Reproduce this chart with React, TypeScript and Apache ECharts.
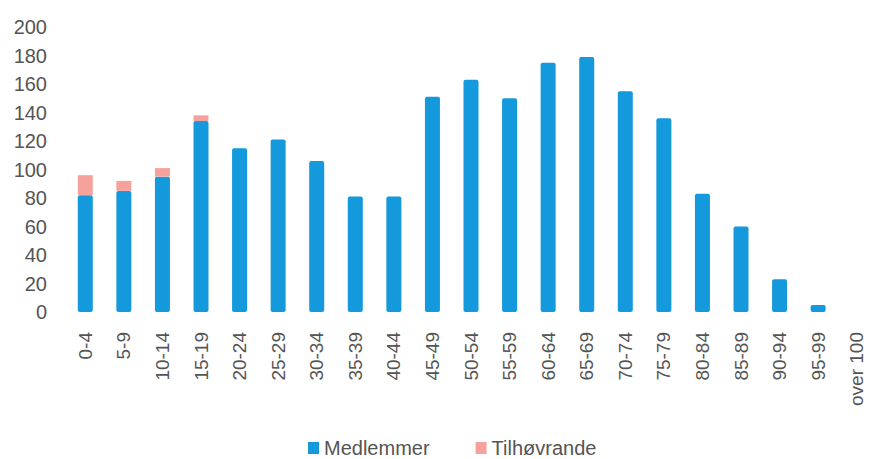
import React, { useEffect, useRef } from "react";
import * as echarts from "echarts";

const categories = [
  "0-4", "5-9", "10-14", "15-19", "20-24", "25-29", "30-34", "35-39", "40-44",
  "45-49", "50-54", "55-59", "60-64", "65-69", "70-74", "75-79", "80-84",
  "85-89", "90-94", "95-99", "over 100",
];
const medlemmer = [82, 85, 95, 134, 115, 121, 106, 81, 81, 151, 163, 150, 175, 179, 155, 136, 83, 60, 23, 5, 0];
const tilhovrande = [14, 7, 6, 4, 0, 0, 0, 0, 0, 0, 0, 0, 0, 0, 0, 0, 0, 0, 0, 0, 0];
const seriesNames = ["Medlemmer", "Tilhøvrande"];
const yTicks = { min: 0, max: 200, interval: 20 };

const FONT = "'Liberation Sans', Arial, sans-serif";
const TEXT = "#555555";

export default function App() {
  const ref = useRef<HTMLDivElement>(null);
  useEffect(() => {
    if (!ref.current) return;
    const chart = echarts.init(ref.current, null, { renderer: "svg" });
    chart.setOption({
      animation: false,
      textStyle: { fontFamily: FONT },
      grid: { left: 66, top: 27, width: 820, height: 285, containLabel: false },
      legend: {
        data: seriesNames,
        left: 308,
        top: 438,
        padding: 0,
        itemWidth: 11,
        itemHeight: 12,
        itemGap: 46,
        icon: "rect",
        textStyle: { fontSize: 20, lineHeight: 18, color: TEXT, fontFamily: FONT },
      },
      xAxis: {
        type: "category",
        data: categories,
        axisLine: { show: false },
        axisTick: { show: false },
        axisLabel: {
          rotate: 90,
          interval: 0,
          margin: 20,
          fontSize: 19,
          color: TEXT,
          fontFamily: FONT,
        },
      },
      yAxis: {
        type: "value",
        min: yTicks.min,
        max: yTicks.max,
        interval: yTicks.interval,
        splitLine: { show: false },
        axisLine: { show: false },
        axisTick: { show: false },
        axisLabel: { fontSize: 20, color: TEXT, margin: 19, fontFamily: FONT },
      },
      series: [
        {
          name: seriesNames[0],
          type: "bar",
          stack: "total",
          data: medlemmer,
          barWidth: 15,
          itemStyle: { color: "#1399DC", borderRadius: 2 },
        },
        {
          name: seriesNames[1],
          type: "bar",
          stack: "total",
          data: tilhovrande,
          barWidth: 15,
          itemStyle: { color: "#F4A29B" },
        },
      ],
    });
    return () => chart.dispose();
  }, []);
  return (
    <div
      ref={ref}
      style={{ position: "fixed", left: 0, top: 0, width: 876, height: 459, background: "#fff" }}
    />
  );
}
